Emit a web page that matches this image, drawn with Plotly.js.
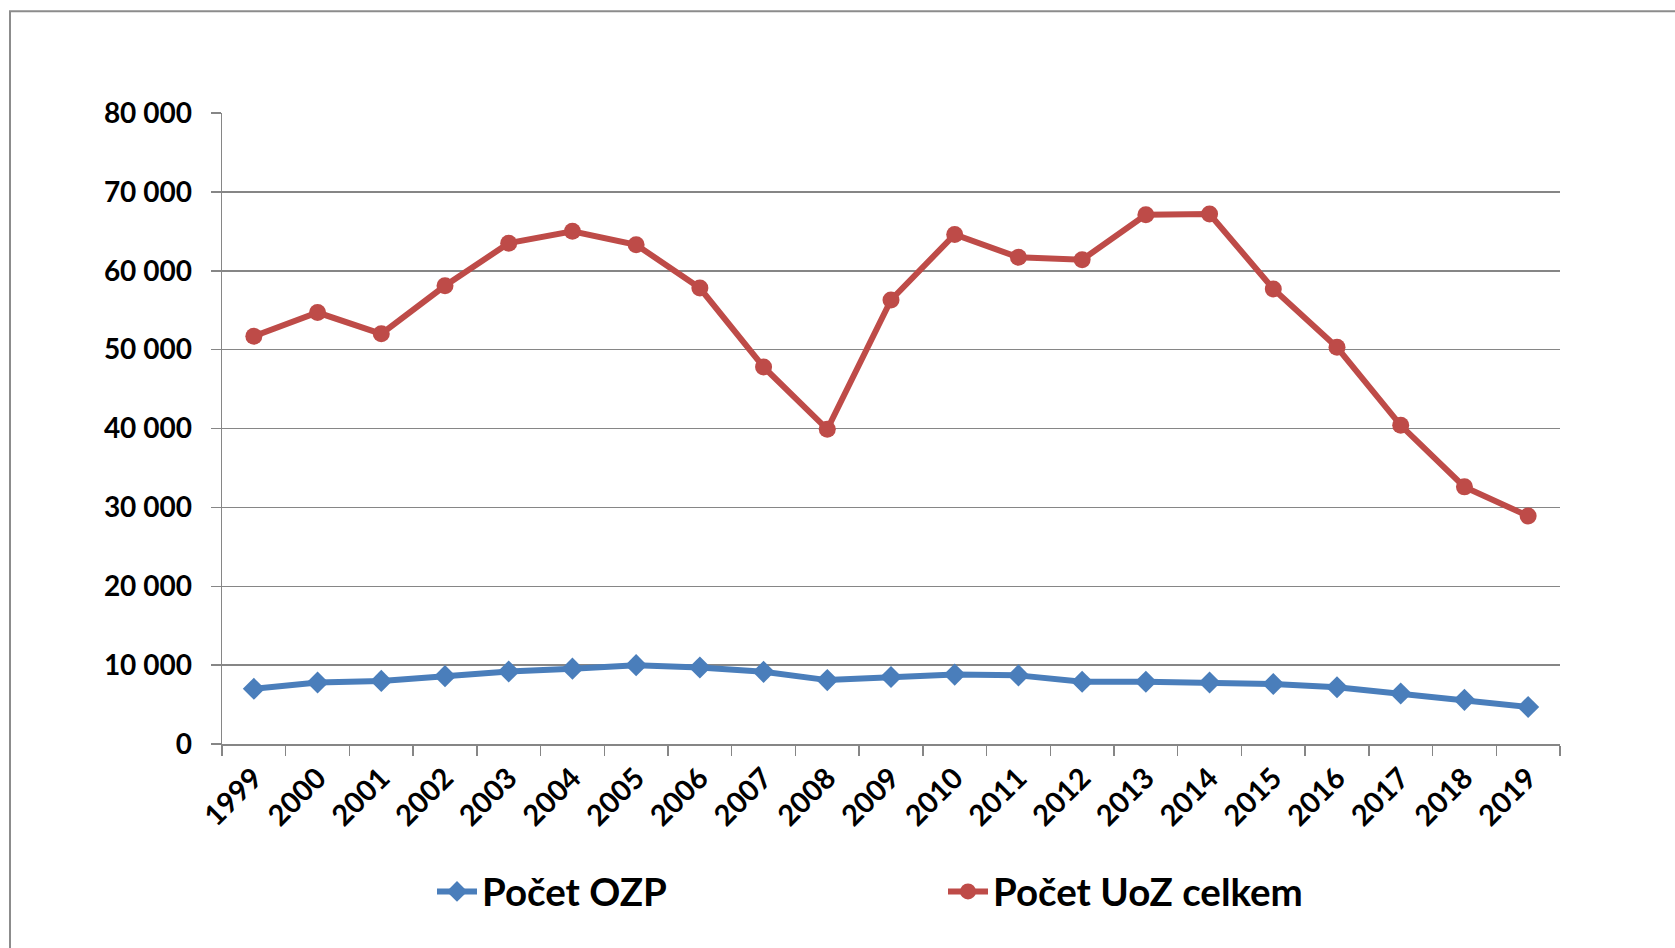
<!DOCTYPE html>
<html>
<head>
<meta charset="utf-8">
<script src="https://cdn.plot.ly/plotly-3.0.1.min.js"></script>
<style>
  html, body { margin: 0; padding: 0; background: #ffffff; }
  #chart { width: 1675px; height: 948px; }
</style>
</head>
<body>
<div id="chart"></div>
<script>
const years = ["1999","2000","2001","2002","2003","2004","2005","2006","2007","2008","2009","2010","2011","2012","2013","2014","2015","2016","2017","2018","2019"];
const pocetOZP = [7000, 7800, 8000, 8600, 9200, 9550, 10000, 9700, 9150, 8100, 8500, 8800, 8700, 7900, 7900, 7800, 7600, 7200, 6400, 5600, 4700];
const pocetUoZ = [51700, 54700, 52000, 58100, 63500, 65000, 63300, 57800, 47800, 39900, 56300, 64600, 61700, 61400, 67100, 67200, 57700, 50300, 40400, 32600, 28900];
const seriesNames = ["Počet OZP", "Počet UoZ celkem"];
const yTickVals = [0, 10000, 20000, 30000, 40000, 50000, 60000, 70000, 80000];
const yTickText = ["0", "10 000", "20 000", "30 000", "40 000", "50 000", "60 000", "70 000", "80 000"];

const FONT = "Lato, 'Open Sans', 'DejaVu Sans', sans-serif";

const traces = [
  {
    x: years, y: pocetOZP, name: seriesNames[0], type: "scatter", mode: "lines+markers",
    line: { color: "#4A7EBB", width: 6 },
    marker: { symbol: "diamond", size: 17, color: "#4A7EBB" },
    hoverinfo: "x+y"
  },
  {
    x: years, y: pocetUoZ, name: seriesNames[1], type: "scatter", mode: "lines+markers",
    line: { color: "#BE4B48", width: 6 },
    marker: { symbol: "circle", size: 17, color: "#BE4B48" },
    hoverinfo: "x+y"
  }
];

const L = 222, R = 1560, T = 112.7, B = 744;
const W = 1675, H = 948;
const pw = R - L, ph = B - T;

const layout = {
  width: W, height: H,
  margin: { l: L, r: W - R, t: T, b: H - B, pad: 0 },
  paper_bgcolor: "#ffffff",
  plot_bgcolor: "#ffffff",
  font: { family: FONT, color: "#000000" },
  showlegend: true,
  legend: {
    orientation: "h",
    x: (432 - L) / pw, xanchor: "left",
    y: (B - 892) / ph, yanchor: "middle",
    font: { family: FONT, size: 38.5, color: "#000000", weight: "bold" },
    entrywidth: 456,
    itemwidth: 40,
    bgcolor: "rgba(0,0,0,0)"
  },
  xaxis: {
    type: "category",
    range: [-0.5, years.length - 0.5],
    tickangle: -45,
    tickson: "boundaries",
    ticks: "outside",
    ticklen: 10,
    tickwidth: 1.5,
    tickcolor: "#868686",
    showline: true,
    linecolor: "#868686",
    linewidth: 1.5,
    showgrid: false,
    zeroline: false,
    ticklabelstandoff: 4,
    tickfont: { family: FONT, size: 29, color: "#000000", weight: "bold" },
    fixedrange: true
  },
  yaxis: {
    range: [0, 80000],
    tickvals: yTickVals,
    ticktext: yTickText,
    ticks: "outside",
    ticklen: 10,
    tickwidth: 1.5,
    tickcolor: "#868686",
    showline: true,
    linecolor: "#868686",
    linewidth: 1.5,
    showgrid: true,
    gridcolor: "#868686",
    gridwidth: 1.5,
    zeroline: false,
    ticklabelstandoff: 13,
    tickfont: { family: FONT, size: 28, color: "#000000", weight: "bold" },
    fixedrange: true
  },
  shapes: [
    {
      type: "rect", xref: "paper", yref: "paper",
      x0: (10 - L) / pw, x1: (W + 20 - L) / pw,
      y0: (B - (H + 20)) / ph, y1: (B - 11) / ph,
      line: { color: "#8C8C8C", width: 2 },
      fillcolor: "rgba(0,0,0,0)",
      layer: "below"
    }
  ]
};

Plotly.newPlot("chart", traces, layout, { displayModeBar: false, staticPlot: true });
</script>
</body>
</html>
